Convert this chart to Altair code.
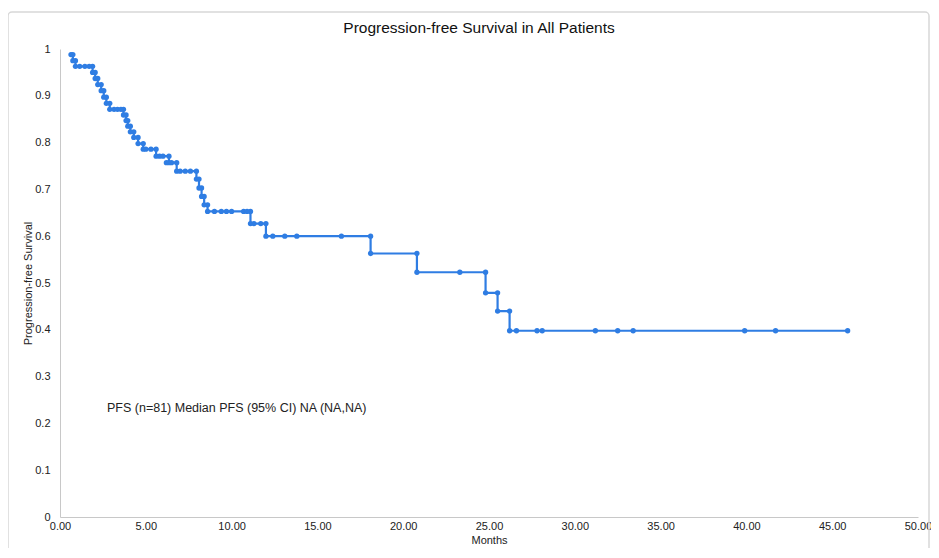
import altair as alt
import pandas as pd

# Kaplan-Meier curve
start_time = [0.64]
start_surv = [0.988]
event_times = [0.75, 0.9, 1.9, 2.05, 2.2, 2.4, 2.55, 2.7, 2.9,
               3.7, 3.85, 3.95, 4.1, 4.3, 4.55, 4.85,
               5.6, 6.35, 6.8, 7.95, 8.1, 8.25, 8.4, 8.6,
               11.1, 12.0, 18.1, 20.8, 24.8, 25.5, 26.2]
event_surv = [0.975, 0.963, 0.950, 0.937, 0.924, 0.911, 0.897, 0.884, 0.871,
              0.859, 0.847, 0.835, 0.823, 0.811, 0.798, 0.786,
              0.771, 0.757, 0.739, 0.722, 0.703, 0.685, 0.667, 0.653,
              0.627, 0.600, 0.563, 0.523, 0.479, 0.440, 0.398]
censor_times = [1.15, 1.45, 1.7, 3.15, 3.35, 3.55, 5.0, 5.3, 5.8, 6.0, 6.2, 6.5,
                7.0, 7.3, 7.6, 9.0, 9.4, 9.7, 10.0, 10.7, 10.9, 11.3, 11.7,
                12.4, 13.1, 13.8, 16.4, 23.3,
                26.6, 27.8, 28.1, 31.2, 32.5, 33.4, 39.9, 41.7, 45.9]
censor_surv = [0.963, 0.963, 0.963, 0.871, 0.871, 0.871, 0.786, 0.786, 0.771, 0.771,
               0.757, 0.757, 0.739, 0.739, 0.739, 0.653, 0.653, 0.653, 0.653, 0.653,
               0.653, 0.627, 0.627, 0.600, 0.600, 0.600, 0.600, 0.523,
               0.398, 0.398, 0.398, 0.398, 0.398, 0.398, 0.398, 0.398, 0.398]

x_ticks = [0, 5, 10, 15, 20, 25, 30, 35, 40, 45, 50]
y_ticks = [0, 0.1, 0.2, 0.3, 0.4, 0.5, 0.6, 0.7, 0.8, 0.9, 1]

TITLE = "Progression-free Survival in All Patients"
NOTE = "PFS (n=81) Median PFS (95% CI) NA (NA,NA)"

BLUE = "#2f7de3"
FONT = "Liberation Sans"

line_df = pd.DataFrame({
    "t": start_time + event_times + [censor_times[-1]],
    "s": start_surv + event_surv + [censor_surv[-1]],
})

prev = start_surv + event_surv[:-1]
pts_df = pd.DataFrame({
    "t": start_time + event_times + event_times + censor_times,
    "s": start_surv + prev + event_surv + censor_surv,
})

xscale = alt.Scale(domain=[0, 50], nice=False, zero=True)
yscale = alt.Scale(domain=[0, 1], nice=False)

xaxis = alt.Axis(values=x_ticks, format=".2f", title="Months", grid=False, ticks=False,
                 labelFlush=False, domainColor="#c8c8c8", labelFontSize=11,
                 labelColor="#222", labelPadding=3, titleFontSize=11,
                 titleFontWeight="normal", titleColor="#222", titleY=23,
                 titleBaseline="middle")
yaxis = alt.Axis(values=y_ticks, format="~g", title="Progression-free Survival", grid=False,
                 ticks=False, domainColor="#c8c8c8", labelFontSize=11, labelColor="#222",
                 labelPadding=10, labelFlush=False, titleFontSize=11,
                 titleFontWeight="normal", titleColor="#222", titleX=-32, titleY=234,
                 titleAngle=270, titleAlign="center", titleBaseline="middle")

frame = alt.Chart(pd.DataFrame({"a": [0]})).mark_rect(
    fill=None, stroke="#d8d8d8", strokeWidth=1.5, cornerRadius=4
).encode(x=alt.value(-52), x2=alt.value(869), y=alt.value(-37), y2=alt.value(505))

line = alt.Chart(line_df).mark_line(
    interpolate="step-after", color=BLUE, strokeWidth=2.2
).encode(
    x=alt.X("t:Q", scale=xscale, axis=xaxis),
    y=alt.Y("s:Q", scale=yscale, axis=yaxis),
)

points = alt.Chart(pts_df).mark_circle(color=BLUE, size=28, opacity=1).encode(
    x=alt.X("t:Q", scale=xscale),
    y=alt.Y("s:Q", scale=yscale),
)

note = alt.Chart(pd.DataFrame({"label": [NOTE]})).mark_text(
    align="left", baseline="middle", fontSize=12.5, color="#222", font=FONT
).encode(text="label:N", x=alt.value(47), y=alt.value(359))

title = alt.Chart(pd.DataFrame({"label": [TITLE]})).mark_text(
    align="center", baseline="middle", fontSize=15.5, color="#111", font=FONT
).encode(text="label:N", x=alt.value(419), y=alt.value(-21))

chart = alt.layer(frame, line, points, note, title).properties(
    width=858, height=468,
    autosize=alt.AutoSizeParams(type="none"),
    padding={"left": 52, "top": 41, "right": 13, "bottom": 31},
).configure(font=FONT).configure_view(stroke=None)

chart.save("out.html", embed_options={"renderer": "svg", "actions": False})
